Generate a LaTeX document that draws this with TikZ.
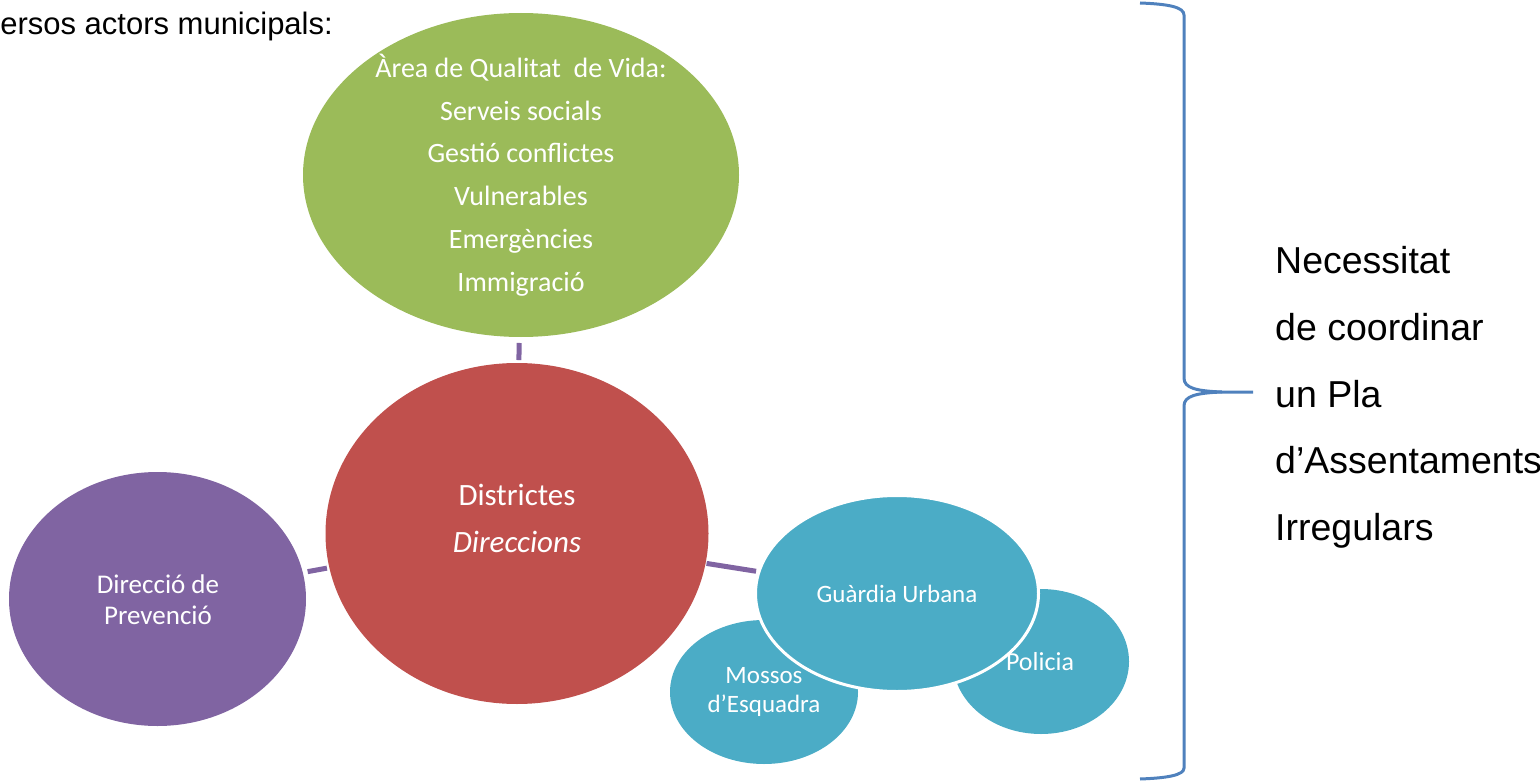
\documentclass[tikz,border=0pt]{standalone}
\usepackage{fontspec}
\setmainfont{Carlito}
\newfontfamily\arialf{Liberation Sans}
\usetikzlibrary{shapes.geometric}
\definecolor{cgreen}{HTML}{9BBB59}
\definecolor{cred}{HTML}{C0504D}
\definecolor{cpurple}{HTML}{8064A2}
\definecolor{cteal}{HTML}{4BACC6}
\definecolor{cbrace}{HTML}{4F81BD}
\begin{document}
\begin{tikzpicture}[x=1pt,y=-1pt,
  ell/.style={ellipse, inner sep=0pt, outer sep=0pt},
  intext/.style={text=white, align=center, inner sep=0pt},
  link/.style={draw=cpurple, line width=5pt},
  side/.style={font=\arialf\fontsize{37.5}{45}\selectfont, anchor=base west, inner sep=0pt},
  bracepath/.style={draw=cbrace, line width=3pt}]
\useasboundingbox (0,0) rectangle (1540,781);

% title
\node[font=\arialf\fontsize{31}{37}\selectfont, anchor=base east, inner sep=0pt] (title) at (333,35) {ersos actors municipals:};

% ellipses
\node[ell, fill=cgreen, minimum width=436pt, minimum height=324pt] (green) at (521,175) {};
\node[intext, font=\fontsize{28}{42.7}\selectfont] (greentxt) at (521,175)
  {Àrea de Qualitat\ \ de Vida:\\Serveis socials\\Gestió conflictes\\Vulnerables\\Emergències\\Immigració};

\node[ell, fill=cred, minimum width=383pt, minimum height=341pt] (red) at (517,533.5) {};
\node[intext, font=\fontsize{31}{47}\selectfont] (redtxt) at (517,518.5) {Districtes\\\textit{Direccions}};

\node[ell, fill=cpurple, minimum width=297pt, minimum height=254pt] (purple) at (157.5,599) {};
\node[intext, font=\fontsize{27}{31}\selectfont] (purpletxt) at (158,599.5) {Direcció de\\Prevenció};

\node[ell, fill=cteal, minimum width=188pt, minimum height=144pt] (mossos) at (764,692) {};
\node[intext, font=\fontsize{25}{29}\selectfont] (mossostxt) at (764,691.5) {Mossos\\d’Esquadra};

\node[ell, fill=cteal, minimum width=176pt, minimum height=145pt] (policia) at (1041,661.5) {};
\node[intext, font=\fontsize{26}{30}\selectfont] (policiatxt) at (1040,662) {Policia};

\node[ell, fill=cteal, draw=white, line width=3pt, minimum width=283pt, minimum height=196pt] (gu) at (897,593.5) {};
\node[intext, font=\fontsize{25}{29}\selectfont] (gutxt) at (897,594) {Guàrdia Urbana};

% connectors
\draw[link, shorten <=6pt, shorten >=3pt] (green) -- (red);
\draw[link, shorten <=5pt, shorten >=2.5pt] (purple) -- (red);
\draw[link, shorten <=1pt, shorten >=3pt] (red) -- (gu);

% brace
\draw[bracepath] (1140,3) .. controls (1168,4) and (1184,7) .. (1184,15) -- (1184,378)
  .. controls (1184,388) and (1196,391) .. (1222,392) -- (1253,392);
\draw[bracepath] (1222,392) .. controls (1196,393) and (1184,396) .. (1184,406) -- (1184,768)
  .. controls (1184,775) and (1168,778) .. (1140,779);

% side text
\node[side] (l1) at (1275,273) {Necessitat};
\node[side] (l2) at (1275,340) {de coordinar};
\node[side] (l3) at (1275,407) {un Pla};
\node[side] (l4) at (1275,473) {d’Assentaments};
\node[side] (l5) at (1275,540) {Irregulars};
\end{tikzpicture}
\end{document}
